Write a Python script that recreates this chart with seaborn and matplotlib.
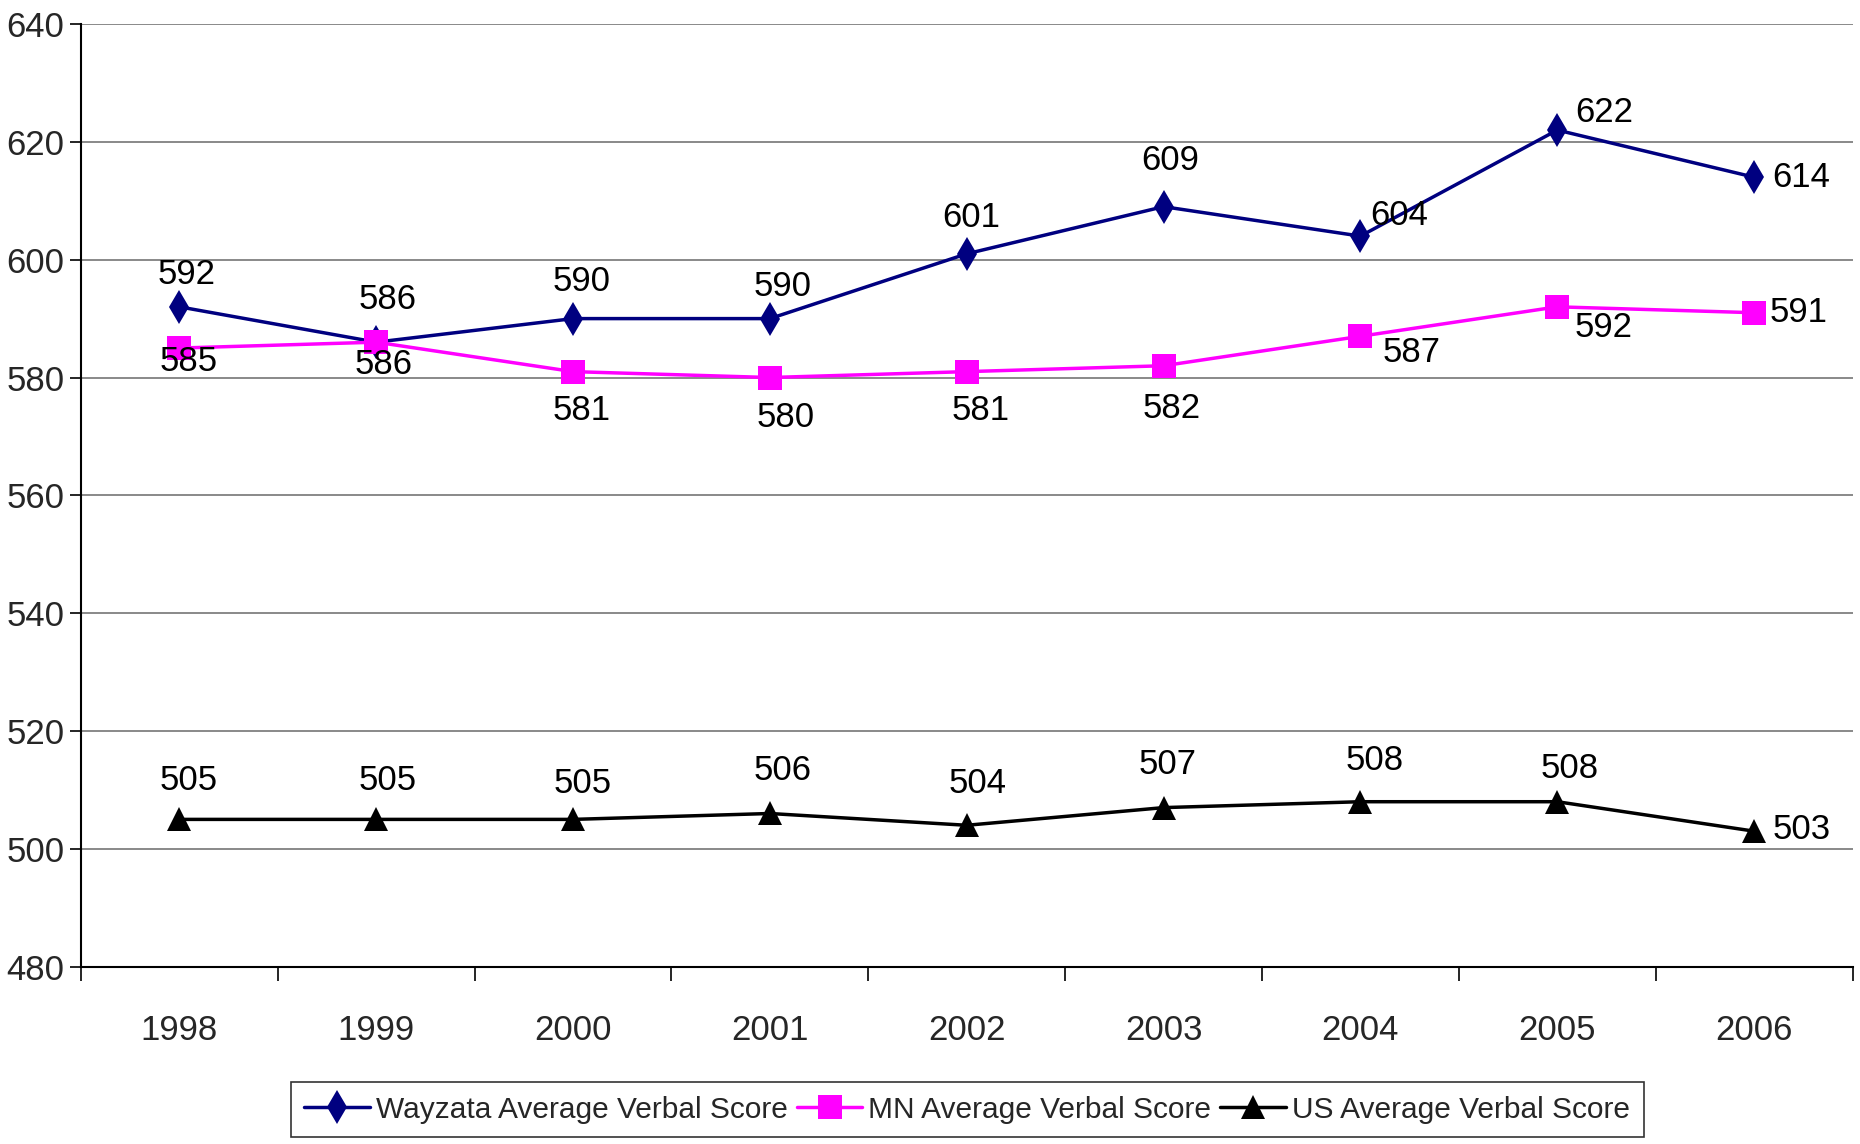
import pandas as pd
import matplotlib
matplotlib.use("Agg")
import matplotlib.pyplot as plt
import seaborn as sns

# Data
years = [1998, 1999, 2000, 2001, 2002, 2003, 2004, 2005, 2006]
wayzata = [592, 586, 590, 590, 601, 609, 604, 622, 614]
mn = [585, 586, 581, 580, 581, 582, 587, 592, 591]
us = [505, 505, 505, 506, 504, 507, 508, 508, 503]
series_names = ["Wayzata Average Verbal Score", "MN Average Verbal Score", "US Average Verbal Score"]

# label offsets (points) per series, Excel-like placement
offsets = {
    series_names[0]: [(5, 23), (8, 31), (6, 27), (9, 23), (3, 26), (5, 33), (28, 15), (34, 13), (34, 0)],
    series_names[1]: [(7, -10), (5, -16), (6, -28), (11, -29), (10, -28), (6, -31), (37, -12), (33, -15), (32, 0)],
    series_names[2]: [(7, 28), (8, 28), (7, 26), (9, 31), (8, 30), (3, 31), (10, 30), (9, 24), (34, 1)],
}

rows = []
for name, vals in zip(series_names, [wayzata, mn, us]):
    for y, v in zip(years, vals):
        rows.append({"Year": y, "Score": v, "Series": name})
df = pd.DataFrame(rows)

sns.set_style("white")
plt.rcParams["font.family"] = ["Liberation Sans", "DejaVu Sans"]

colors = {series_names[0]: "#000080", series_names[1]: "#FF00FF", series_names[2]: "#000000"}
markers = {series_names[0]: "d", series_names[1]: "s", series_names[2]: "^"}

fig = plt.figure(figsize=(18.6, 11.44), dpi=100)
ax = fig.add_axes([0.0435, 0.155, 0.9525, 0.824])

sns.lineplot(data=df, x="Year", y="Score", hue="Series", style="Series",
             palette=colors, markers=markers, dashes=False, markersize=17,
             markeredgewidth=0, linewidth=2.5, ax=ax, legend=True)

for name in series_names:
    sub = df[df["Series"] == name]
    for (yr, val), off in zip(zip(sub["Year"], sub["Score"]), offsets[name]):
        ax.annotate(str(val), (yr, val), xytext=off, textcoords="offset points",
                    ha="center", va="center", fontsize=25, color="black")

ax.set_ylim(480, 640)
ax.set_yticks(range(480, 641, 20))
ax.set_xlim(1997.5, 2006.5)
ax.set_xticks(years)
ax.set_xticks([y - 0.5 for y in years] + [2006.5], minor=True)
ax.tick_params(axis="x", which="major", length=0, pad=34, labelsize=25)
ax.tick_params(axis="x", which="minor", length=10, width=1.2, direction="out", color="black", bottom=True)
ax.tick_params(axis="y", length=8, width=1.2, direction="out", color="black", left=True, pad=4, labelsize=25)
ax.yaxis.grid(True, color="#808080", linewidth=1.3)
ax.set_axisbelow(True)
ax.set_xlabel("")
ax.set_ylabel("")
for s in ["top", "right"]:
    ax.spines[s].set_visible(False)
ax.spines["left"].set_color("black")
ax.spines["left"].set_linewidth(1.5)
ax.spines["bottom"].set_color("black")
ax.spines["bottom"].set_linewidth(1.5)

ax.legend_.remove()
handles, labels = ax.get_legend_handles_labels()
leg = fig.legend(handles, labels, loc="upper center", bbox_to_anchor=(0.52, 0.054),
                 ncol=3, frameon=True, fontsize=21.5, handlelength=2.2, handletextpad=0.2,
                 columnspacing=0.3, borderpad=0.45, borderaxespad=0, fancybox=False,
                 edgecolor="black")
leg.get_frame().set_linewidth(1.2)

fig.savefig("out.png", dpi=100)
